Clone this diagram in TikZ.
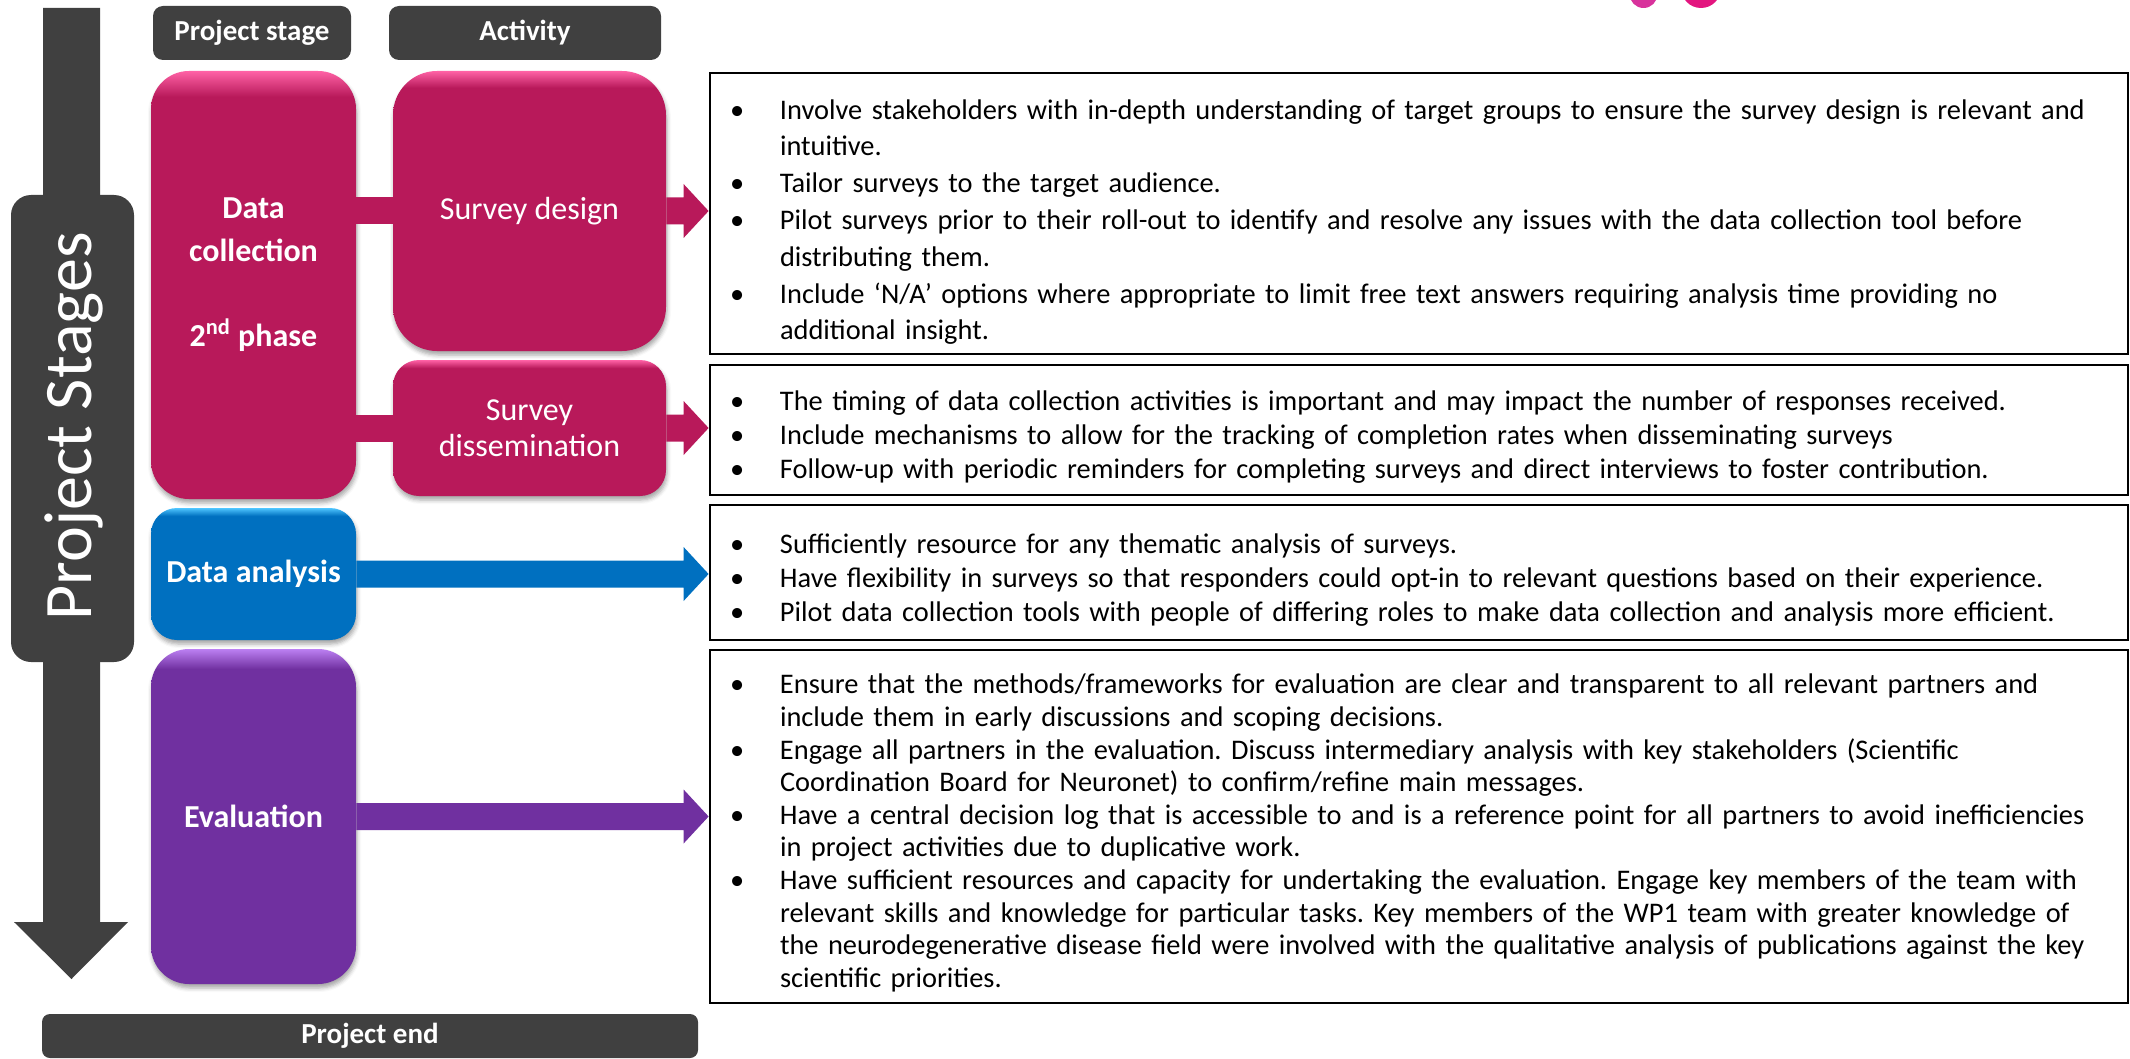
\documentclass[tikz,border=0pt]{standalone}
\usepackage{fontspec}
\setmainfont{Carlito}
\usetikzlibrary{calc,shadows.blur}

\definecolor{darkgrey}{HTML}{404040}
\definecolor{pinkc}{HTML}{B8195A}
\definecolor{pinklt}{HTML}{FF62A6}
\definecolor{bluec}{HTML}{0070C0}
\definecolor{bluelt}{HTML}{4FC6FF}
\definecolor{purpc}{HTML}{7030A0}
\definecolor{purplt}{HTML}{BC80F2}
\definecolor{dotA}{HTML}{D8329C}
\definecolor{dotB}{HTML}{E3157F}

% glossy top edge on the stage boxes
\pgfdeclareverticalshading{pinkgloss}{100bp}{color(0bp)=(pinkc); color(72bp)=(pinkc); color(75bp)=(pinklt); color(100bp)=(pinklt)}
\pgfdeclareverticalshading{bluegloss}{100bp}{color(0bp)=(bluec); color(72bp)=(bluec); color(75bp)=(bluelt); color(100bp)=(bluelt)}
\pgfdeclareverticalshading{purplegloss}{100bp}{color(0bp)=(purpc); color(72bp)=(purpc); color(75bp)=(purplt); color(100bp)=(purplt)}

% one bullet point with hanging indent (break lines with \newline)
\newcommand{\bul}{\par\noindent\hangindent=35pt\hangafter=1\makebox[35pt][l]{\hspace{10pt}\textbullet}\ignorespaces}

\begin{document}
\begin{tikzpicture}[x=0.5pt, y=-0.5pt,
    header/.style={fill=darkgrey, rounded corners=5pt, inner sep=0pt, text=white,
        font=\bfseries\fontsize{14.5}{17}\selectfont},
    stagebox/.style={shade, shading=#1, rounded corners=19pt, inner sep=0pt,
        minimum width=102.5pt, text=white, align=center,
        blur shadow={shadow xshift=0.5pt, shadow yshift=-2pt, shadow blur radius=2pt, shadow opacity=35}},
    stagetext/.style={text=white, align=center, font=\bfseries\fontsize{16}{21.3}\selectfont},
    acttext/.style={font=\fontsize{16}{18}\selectfont},
    tipbox/.style={draw, line width=1.4pt, inner sep=0pt, text width=709pt},
    band/.style={line width=13.5pt, draw=#1},
    blockarrow/.style={fill=#1, to path={
        ($(\tikztostart)+(0,13.5)$) -- ($(\tikztotarget)+(-25,13.5)$) --
        ($(\tikztotarget)+(-25,27)$) -- (\tikztotarget) --
        ($(\tikztotarget)+(-25,-27)$) -- ($(\tikztotarget)+(-25,-13.5)$) --
        ($(\tikztostart)+(0,-13.5)$) -- cycle}}
]
\useasboundingbox (0,0) rectangle (2130,1059);

% two dots of the logo, cut by the page edge
\fill[dotA] (1643.5,-6) circle[radius=14];
\fill[dotB] (1701,-12) circle[radius=20];

% time line down the left side
\fill[darkgrey] (43,8) -- (100,8) -- (100,922) -- (128,922) -- (71.5,979)
    -- (14,922) -- (43,922) -- cycle;
\node[fill=darkgrey, rounded corners=10pt, inner sep=0pt,
    minimum width=61.5pt, minimum height=233.5pt] (stages) at (72.5,428.5) {};
\node[rotate=90, text=white, font=\fontsize{34}{40}\selectfont] (stagestitle)
    at (74,426.5) {Project Stages};

% column heads and foot
\node[header, minimum width=99pt, minimum height=27pt] (hstage) at (252,33) {Project stage};
\node[header, minimum width=136pt, minimum height=27pt] (hact) at (525,33) {Activity};
\node[header, minimum width=328pt, minimum height=22pt, rounded corners=4pt] (pend)
    at (370,1036) {Project end};

% stages
\node[stagebox=pinkgloss, minimum height=214pt] (dc) at (253.5,285) {};
\node[stagetext] (dctext) at (253.5,275) {Data\\collection\\[21.3pt]2\textsuperscript{nd} phase};
\node[stagebox=bluegloss, stagetext, minimum height=66pt, rounded corners=13pt] (da)
    at (253.5,574) {Data analysis};
\node[stagebox=purplegloss, stagetext, minimum height=167.5pt] (ev)
    at (253.5,816.5) {Evaluation};

% activities
\node[stagebox=pinkgloss, acttext, minimum width=136.5pt, minimum height=140pt,
    rounded corners=22pt] (sd) at (529.5,211) {Survey design};
\node[stagebox=pinkgloss, acttext, minimum width=136.5pt, minimum height=68pt,
    rounded corners=13pt] (sdis) at (529.5,428) {Survey\\dissemination};
\draw[band=pinkc] (sd.west -| dc.east) -- (sd.west);
\draw[band=pinkc] (sdis.west -| dc.east) -- (sdis.west);

% lessons learnt
\node[tipbox, minimum height=140.5pt, font=\fontsize{14.2}{18.4}\selectfont] (tb1) at (1419,213.5) {\raggedright\frenchspacing
    \bul Involve stakeholders with in-depth understanding of target groups to ensure the survey design is relevant and\newline intuitive.
    \bul Tailor surveys to the target audience.
    \bul Pilot surveys prior to their roll-out to identify and resolve any issues with the data collection tool before\newline distributing them.
    \bul Include ‘N/A’ options where appropriate to limit free text answers requiring analysis time providing no\newline additional insight.\par};
\node[tipbox, minimum height=65pt, font=\fontsize{14.2}{17}\selectfont] (tb2) at (1419,430) {\raggedright\frenchspacing
    \bul The timing of data collection activities is important and may impact the number of responses received.
    \bul Include mechanisms to allow for the tracking of completion rates when disseminating surveys
    \bul Follow-up with periodic reminders for completing surveys and direct interviews to foster contribution.\par};
\node[tipbox, minimum height=67.5pt, font=\fontsize{14.2}{17}\selectfont] (tb3) at (1419,572.5) {\raggedright\frenchspacing
    \bul Sufficiently resource for any thematic analysis of surveys.
    \bul Have flexibility in surveys so that responders could opt-in to relevant questions based on their experience.
    \bul Pilot data collection tools with people of differing roles to make data collection and analysis more efficient.\par};
\node[tipbox, minimum height=176.5pt, font=\fontsize{14.2}{16.3}\selectfont] (tb4) at (1419,826.5) {\raggedright\frenchspacing
    \bul Ensure that the methods/frameworks for evaluation are clear and transparent to all relevant partners and\newline include them in early discussions and scoping decisions.
    \bul Engage all partners in the evaluation. Discuss intermediary analysis with key stakeholders (Scientific\newline Coordination Board for Neuronet) to confirm/refine main messages.
    \bul Have a central decision log that is accessible to and is a reference point for all partners to avoid inefficiencies\newline in project activities due to duplicative work.
    \bul Have sufficient resources and capacity for undertaking the evaluation. Engage key members of the team with\newline relevant skills and knowledge for particular tasks. Key members of the WP1 team with greater knowledge of\newline the neurodegenerative disease field were involved with the qualitative analysis of publications against the key\newline scientific priorities.\par};

% arrows into the boxes
\path[blockarrow=pinkc] (sd.east) to (sd.east -| tb1.west);
\path[blockarrow=pinkc] (sdis.east) to (sdis.east -| tb2.west);
\path[blockarrow=bluec] (da.east) to (da.east -| tb3.west);
\path[blockarrow=purpc] (ev.east) to (ev.east -| tb4.west);
\end{tikzpicture}
\end{document}
